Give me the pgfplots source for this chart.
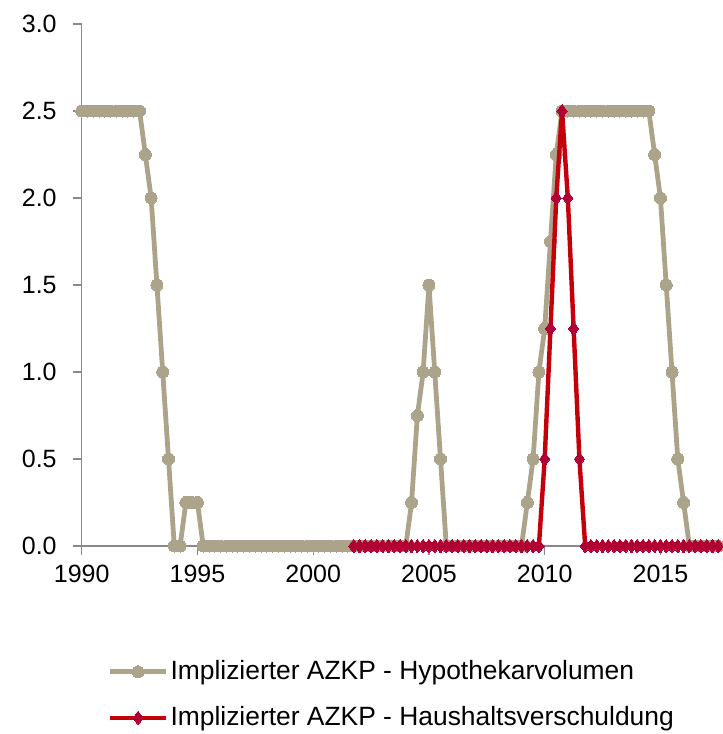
\documentclass[border=0pt]{standalone}
\usepackage{fontspec}
\setmainfont{Liberation Sans}
\usepackage{pgfplots}
\pgfplotsset{compat=1.18}
\definecolor{azkpgrey}{RGB}{172,164,138}
\definecolor{azkpred}{RGB}{196,0,10}
\definecolor{azkpmark}{RGB}{178,0,52}
\definecolor{axisgrey}{RGB}{137,137,137}
\begin{document}
\begin{tikzpicture}
\useasboundingbox (-40.85pt,-94pt) rectangle (320.65pt,273pt);
\begin{axis}[
  at={(0pt,0pt)}, anchor=south west,
  scale only axis, width=320.5pt, height=261pt,
  xmin=1990, xmax=2017.69, ymin=0, ymax=3,
  axis lines=left, axis line style={axisgrey, line width=0.6pt, -},
  xtick={1990,1995,...,2015}, ytick={0,0.5,...,3},
  tick align=outside, major tick length=4.5pt,
  tick style={axisgrey, line width=0.6pt},
  minor tick num=0,
  /pgf/number format/assume math mode=true,
  xticklabel style={/pgf/number format/1000 sep={}, yshift=-1.5pt},
  yticklabel style={xshift=-4.5pt, /pgf/number format/fixed,
    /pgf/number format/fixed zerofill, /pgf/number format/precision=1},
  tick label style={font=\fontsize{12.5}{15}\selectfont, text=black},
  clip mode=individual,
  legend style={draw=none, fill=none, at={(axis description cs:0.04,-0.215)},
    anchor=north west, font=\fontsize{13.2}{15}\selectfont, row sep=10pt,
    inner sep=0pt, nodes={inner sep=1pt}},
  legend cell align=left,
  legend image code/.code={
    \draw[mark repeat=2, mark phase=2] plot coordinates {(0pt,0pt) (14pt,0pt) (28pt,0pt)};},
]
\addplot[color=azkpgrey, line width=2.4pt, mark=*, mark size=3pt,
  mark options={fill=azkpgrey, draw=azkpgrey, line width=0pt}] coordinates {
(1990,2.5)(1990.25,2.5)(1990.5,2.5)(1990.75,2.5)(1991,2.5)(1991.25,2.5)(1991.5,2.5)(1991.75,2.5)
(1992,2.5)(1992.25,2.5)(1992.5,2.5)(1992.75,2.25)(1993,2.0)(1993.25,1.5)(1993.5,1.0)(1993.75,0.5)
(1994,0)(1994.25,0)(1994.5,0.25)(1994.75,0.25)(1995,0.25)(1995.25,0)(1995.5,0)(1995.75,0)
(1996,0)(1996.25,0)(1996.5,0)(1996.75,0)(1997,0)(1997.25,0)(1997.5,0)(1997.75,0)
(1998,0)(1998.25,0)(1998.5,0)(1998.75,0)(1999,0)(1999.25,0)(1999.5,0)(1999.75,0)
(2000,0)(2000.25,0)(2000.5,0)(2000.75,0)(2001,0)(2001.25,0)(2001.5,0)(2001.75,0)
(2002,0)(2002.25,0)(2002.5,0)(2002.75,0)(2003,0)(2003.25,0)(2003.5,0)(2003.75,0)
(2004,0)(2004.25,0.25)(2004.5,0.75)(2004.75,1.0)(2005,1.5)(2005.25,1.0)(2005.5,0.5)(2005.75,0)
(2006,0)(2006.25,0)(2006.5,0)(2006.75,0)(2007,0)(2007.25,0)(2007.5,0)(2007.75,0)
(2008,0)(2008.25,0)(2008.5,0)(2008.75,0)(2009,0)(2009.25,0.25)(2009.5,0.5)(2009.75,1.0)
(2010,1.25)(2010.25,1.75)(2010.5,2.25)(2010.75,2.5)(2011,2.5)(2011.25,2.5)(2011.5,2.5)(2011.75,2.5)
(2012,2.5)(2012.25,2.5)(2012.5,2.5)(2012.75,2.5)(2013,2.5)(2013.25,2.5)(2013.5,2.5)(2013.75,2.5)
(2014,2.5)(2014.25,2.5)(2014.5,2.5)(2014.75,2.25)(2015,2.0)(2015.25,1.5)(2015.5,1.0)(2015.75,0.5)
(2016,0.25)(2016.25,0)(2016.5,0)(2016.75,0)(2017,0)(2017.25,0)(2017.5,0)
};
\addlegendentry{Implizierter AZKP - Hypothekarvolumen}
\addplot[color=azkpred, line width=2.2pt, mark=diamond*, mark size=3.4pt,
  mark options={fill=azkpmark, draw=azkpmark, line width=0pt}] coordinates {
(2001.75,0)(2002,0)(2002.25,0)(2002.5,0)(2002.75,0)(2003,0)(2003.25,0)(2003.5,0)(2003.75,0)
(2004,0)(2004.25,0)(2004.5,0)(2004.75,0)(2005,0)(2005.25,0)(2005.5,0)(2005.75,0)
(2006,0)(2006.25,0)(2006.5,0)(2006.75,0)(2007,0)(2007.25,0)(2007.5,0)(2007.75,0)
(2008,0)(2008.25,0)(2008.5,0)(2008.75,0)(2009,0)(2009.25,0)(2009.5,0)(2009.75,0)
(2010,0.5)(2010.25,1.25)(2010.5,2.0)(2010.75,2.5)(2011,2.0)(2011.25,1.25)(2011.5,0.5)(2011.75,0)
(2012,0)(2012.25,0)(2012.5,0)(2012.75,0)(2013,0)(2013.25,0)(2013.5,0)(2013.75,0)
(2014,0)(2014.25,0)(2014.5,0)(2014.75,0)(2015,0)(2015.25,0)(2015.5,0)(2015.75,0)
(2016,0)(2016.25,0)(2016.5,0)(2016.75,0)(2017,0)(2017.25,0)(2017.5,0)
};
\addlegendentry{Implizierter AZKP - Haushaltsverschuldung}
\end{axis}
\end{tikzpicture}
\end{document}
